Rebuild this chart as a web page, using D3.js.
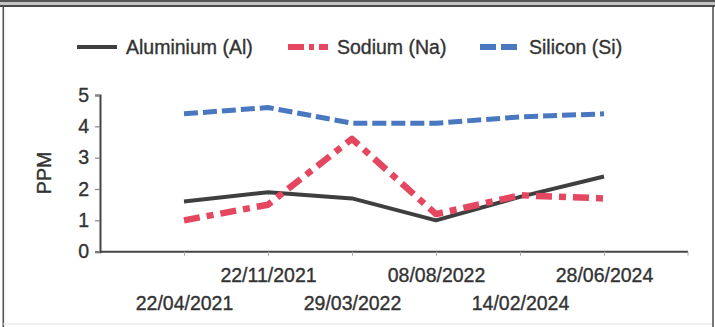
<!DOCTYPE html>
<html><head><meta charset="utf-8">
<script src="https://cdn.jsdelivr.net/npm/d3@7"></script>
<style>
html,body{margin:0;padding:0;background:#fff;}
svg{display:block;}
text{font-family:"Liberation Sans",Arial,sans-serif;fill:#333;stroke:#333;stroke-width:0.35px;}
</style></head>
<body>
<svg id="chart" width="715" height="327"></svg>
<script>
const categories = ["22/04/2021","22/11/2021","29/03/2022","08/08/2022","14/02/2024","28/06/2024"];
const aluminium = [1.6, 1.9, 1.7, 1.0, 1.75, 2.4];
const sodium    = [1.0, 1.5, 3.6, 1.2, 1.8, 1.7];
const silicon   = [4.4, 4.6, 4.1, 4.1, 4.3, 4.4];
const yTicks = [0,1,2,3,4,5];
const seriesNames = ["Aluminium (Al)","Sodium (Na)","Silicon (Si)"];

const series = [
  {name: seriesNames[0], values: aluminium, color:"#3f3f3f", width:4, dash:null},
  {name: seriesNames[1], values: sodium, color:"#e4475f", width:6.5, dash:"16,7,7,7"},
  {name: seriesNames[2], values: silicon, color:"#4a78c0", width:5, dash:"14,5"}
];

const svg = d3.select("#chart");
const FS = 19.5;

// frame
svg.append("rect").attr("x",0).attr("y",0).attr("width",715).attr("height",2).attr("fill","#555");
svg.append("rect").attr("x",0).attr("y",2).attr("width",715).attr("height",3).attr("fill","#c4c4c4");
svg.append("rect").attr("x",0).attr("y",5).attr("width",715).attr("height",2).attr("fill","#4a4a4a");
svg.append("rect").attr("x",2.5).attr("y",6).attr("width",1.6).attr("height",321).attr("fill","#555");
svg.append("rect").attr("x",712).attr("y",7).attr("width",2).attr("height",320).attr("fill","#777");
svg.append("rect").attr("x",3).attr("y",323.5).attr("width",709).attr("height",1).attr("fill","#e2e2e2");

const x = d3.scalePoint().domain(categories).range([100,688]).padding(1);
const y = d3.scaleLinear().domain([0,5]).range([251.7,95]);

// y axis
const yAxis = svg.append("g").attr("transform","translate(100,0)")
  .call(d3.axisLeft(y).tickValues(yTicks).tickSize(5).tickPadding(6).tickFormat(d3.format("d")));
yAxis.select(".domain").attr("stroke","#444").attr("stroke-width",2);
yAxis.selectAll(".tick line").attr("stroke","#888").attr("stroke-width",1.2);
yAxis.selectAll(".tick text").attr("font-size",FS).attr("font-family","Liberation Sans, Arial, sans-serif").attr("fill","#333");

// x axis
const xAxis = svg.append("g").attr("transform",`translate(0,${y(0)})`)
  .call(d3.axisBottom(x).tickSize(4).tickPadding(0));
xAxis.select(".domain").attr("stroke","#444").attr("stroke-width",2).attr("d",`M100,0H688`);
xAxis.selectAll(".tick line").attr("stroke","#aaa").attr("stroke-width",1);
xAxis.selectAll(".tick text")
  .attr("font-size",FS).attr("font-family","Liberation Sans, Arial, sans-serif").attr("fill","#333")
  .attr("dy",null)
  .attr("y",(d,i)=> i%2===1 ? 30 : 58);
xAxis.append("line").attr("x1",688).attr("x2",688).attr("y1",0).attr("y2",4).attr("stroke","#aaa");

// y label
svg.append("text").attr("transform","translate(51,173) rotate(-90)")
  .attr("text-anchor","middle").attr("font-size",FS).text("PPM");

// lines
const line = d3.line().x((d,i)=>x(categories[i])).y(d=>y(d));
series.forEach(s=>{
  svg.append("path").datum(s.values).attr("d",line)
    .attr("fill","none").attr("stroke",s.color).attr("stroke-width",s.width)
    .attr("stroke-dasharray",s.dash).attr("stroke-linejoin","round");
});

// legend
const legendX = [77, 288, 480];
series.forEach((s,i)=>{
  const g = svg.append("g").attr("transform",`translate(${legendX[i]},47)`);
  g.append("line").attr("x1",0).attr("x2",40).attr("y1",0).attr("y2",0)
    .attr("stroke",s.color).attr("stroke-width", i===0?4:6).attr("stroke-dasharray", i===1?"16,5,5,5":(i===2?"16,5":null));
  g.append("text").attr("x",49).attr("y",7).attr("font-size",FS).text(s.name);
});
</script>
</body></html>
